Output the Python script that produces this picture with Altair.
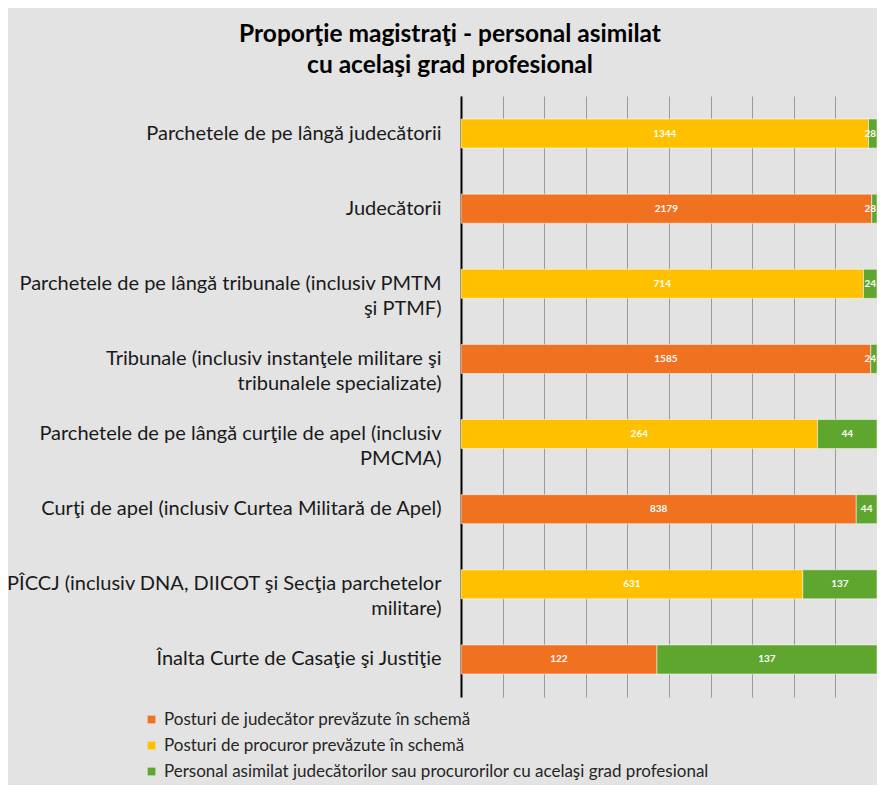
import altair as alt
import pandas as pd

categories = [
    "Parchetele de pe lângă judecătorii",
    "Judecătorii",
    "Parchetele de pe lângă  tribunale (inclusiv PMTM|şi PTMF)",
    "Tribunale (inclusiv instanţele militare şi|tribunalele specializate)",
    "Parchetele de pe lângă curţile de apel (inclusiv|PMCMA)",
    "Curţi de apel (inclusiv Curtea Militară de Apel)",
    "PÎCCJ (inclusiv DNA, DIICOT şi Secţia parchetelor|militare)",
    "Înalta Curte de Casaţie şi Justiţie",
]
judge = [None, 2179, None, 1585, None, 838, None, 122]
prosecutor = [1344, None, 714, None, 264, None, 631, None]
assimilated = [28, 28, 24, 24, 44, 44, 137, 137]

series = [
    "Posturi de judecător prevăzute în  schemă",
    "Posturi de procuror prevăzute în  schemă",
    "Personal asimilat judecătorilor sau procurorilor cu acelaşi grad profesional",
]
colors = ["#F0711F", "#FFC000", "#5FA62F"]

rows = []
for i, cat in enumerate(categories):
    for k, vals in enumerate([judge, prosecutor, assimilated]):
        v = vals[i]
        if v is not None:
            rows.append({"cat": cat, "series": series[k], "order": k, "value": v})
df = pd.DataFrame(rows)

FONT = "Lato"

base = alt.Chart(df).transform_stack(
    stack="value",
    groupby=["cat"],
    sort=[alt.SortField(field="order", order="ascending")],
    as_=["x0", "x1"],
    offset="normalize",
).transform_calculate(
    mid="(datum.x0 + datum.x1) / 2", width_frac="datum.x1 - datum.x0"
)

y_enc = alt.Y(
    "cat:N",
    sort=categories,
    title=None,
    scale=alt.Scale(paddingInner=0.613, paddingOuter=0.306),
    axis=alt.Axis(
        labelExpr="split(datum.label, '|')",
        labelFont=FONT,
        labelFontSize=20,
        labelColor="#1a1a1a",
        labelLimit=500,
        labelPadding=20,
        labelLineHeight=25,
        ticks=False,
        grid=False,
        domain=True,
        domainColor="#000000",
        domainWidth=2,
    ),
)

bars = base.mark_bar(stroke="#ffffff", strokeWidth=1, strokeOpacity=0.5).encode(
    y=y_enc,
    x=alt.X(
        "x0:Q",
        title=None,
        scale=alt.Scale(domain=[0, 1], nice=False),
        axis=alt.Axis(
            values=[i / 10 for i in range(11)],
            labels=False,
            ticks=False,
            domain=False,
            grid=True,
            gridColor="#9a9a9a",
            gridWidth=1,
        ),
    ),
    x2="x1:Q",
    color=alt.Color(
        "series:N",
        scale=alt.Scale(domain=series, range=colors),
        legend=alt.Legend(
            title=None,
            orient="none",
            legendX=-324,
            legendY=609,
            direction="vertical",
            symbolType="square",
            symbolSize=60,
            symbolStrokeWidth=0,
            labelFont=FONT,
            labelFontSize=17,
            labelColor="#262626",
            labelLimit=700,
            rowPadding=8,
            padding=6,
        ),
    ),
)

text_wide = base.transform_filter("datum.width_frac >= 0.04").mark_text(
    color="white", fontWeight="bold", fontSize=10, font=FONT
).encode(
    y=alt.Y("cat:N", sort=categories),
    x=alt.X("mid:Q"),
    text=alt.Text("value:Q"),
)

text_narrow = base.transform_filter("datum.width_frac < 0.04").mark_text(
    color="white", fontWeight="bold", fontSize=10, font=FONT, align="right", dx=-1
).encode(
    y=alt.Y("cat:N", sort=categories),
    x=alt.X("x1:Q"),
    text=alt.Text("value:Q"),
)

chart = (
    alt.layer(bars, text_wide, text_narrow)
    .properties(
        width=416,
        height=601,
        autosize=alt.AutoSizeParams(type="none"),
        padding={"left": 453, "top": 88, "right": 0, "bottom": 88},
        background="#e3e3e3",
        title=alt.TitleParams(
            ["Proporţie magistraţi - personal asimilat", "cu acelaşi grad profesional"],
            font=FONT,
            fontSize=24.5,
            fontWeight="bold",
            color="#000000",
            anchor="middle",
            dx=-219,
            offset=18,
            lineHeight=31,
        ),
    )
    .configure_view(stroke=None)
)

chart.save("out.html", embed_options={"renderer": "svg", "actions": False})
